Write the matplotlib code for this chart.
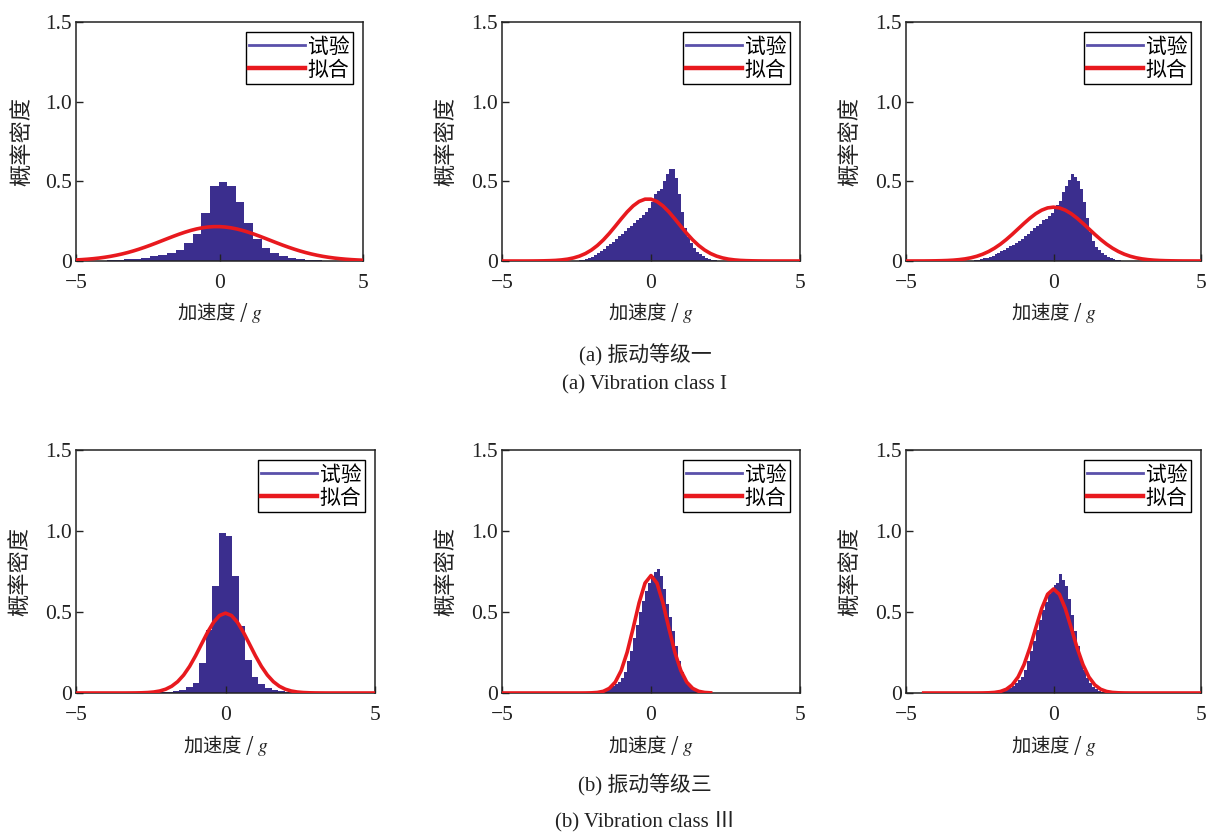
import numpy as np
import matplotlib
matplotlib.use('Agg')
import matplotlib.pyplot as plt
from matplotlib.lines import Line2D

nan = float('nan')
plt.rcParams['mathtext.fontset'] = 'stix'

# ---------------- data ----------------
# histogram bins: first left edge, bin width, densities
hist_start = [-3.93, -2.5, -2.8, -2.2, -1.8, -2.0]
hist_width = [0.3, 0.1, 0.1, 0.22, 0.1, 0.1]

hist1 = [0.005, 0.008, 0.01, 0.015, 0.02, 0.03, 0.04, 0.05, 0.07, 0.11, 0.17,
         0.3, 0.47, 0.495, 0.47, 0.37, 0.24, 0.14, 0.08, 0.05, 0.03, 0.02,
         0.012, 0.008, 0.005]
hist2 = [0.003, 0.005, 0.008, 0.012, 0.018, 0.026, 0.035, 0.048, 0.06, 0.075,
         0.092, 0.105, 0.12, 0.138, 0.155, 0.17, 0.188, 0.205, 0.22, 0.237,
         0.255, 0.27, 0.29, 0.31, 0.335, 0.37, 0.42, 0.44, 0.455, 0.5, 0.545,
         0.58, 0.578, 0.52, 0.42, 0.31, 0.21, 0.15, 0.11, 0.08, 0.058, 0.042,
         0.03, 0.02, 0.012, 0.007, 0.004, 0.002]
hist3 = [0.003, 0.005, 0.008, 0.012, 0.016, 0.021, 0.027, 0.034, 0.043, 0.052,
         0.062, 0.072, 0.082, 0.092, 0.102, 0.113, 0.125, 0.14, 0.155, 0.172,
         0.19, 0.205, 0.218, 0.235, 0.255, 0.265, 0.28, 0.3,
         0.325, 0.35, 0.375, 0.43, 0.47, 0.51, 0.545, 0.53, 0.5, 0.45, 0.37,
         0.27, 0.18, 0.125, 0.09, 0.068, 0.05, 0.037, 0.026, 0.018, 0.012,
         0.008, 0.005, 0.003]
hist4 = [0.005, 0.008, 0.012, 0.02, 0.035, 0.06, 0.185, 0.39, 0.66, 0.985,
         0.97, 0.72, 0.415, 0.205, 0.10, 0.055, 0.03, 0.02, 0.012, 0.008, 0.005]
hist5 = [0.004, 0.007, 0.012, 0.02, 0.03, 0.042, 0.055, 0.07, 0.095, 0.13,
         0.2, 0.26, 0.34, 0.42, 0.5, 0.57, 0.63, 0.68, 0.72, 0.75, 0.765, 0.72,
         0.64, 0.55, 0.47, 0.38, 0.29, 0.2, 0.13, 0.085, 0.055, 0.035, 0.022,
         0.014, 0.008, 0.004]
hist6 = [0.005, 0.008, 0.012, 0.018, 0.025, 0.033, 0.045, 0.06, 0.078, 0.1,
         0.14, 0.2, 0.26, 0.32, 0.39, 0.45, 0.51, 0.56, 0.61, 0.645, 0.665,
         0.68, 0.735, 0.70, 0.66, 0.58, 0.48, 0.38, 0.29, 0.21, 0.145, 0.095,
         0.06, 0.038, 0.022, 0.013, 0.007, 0.004]

# fitted density curves, read at x = -5.0, -4.8, ..., 5.0
fit_x = np.round(np.linspace(-5, 5, 51), 1)
fit1 = [0.0065, 0.0086, 0.0112, 0.0145, 0.0185, 0.0234, 0.0292, 0.0361, 0.0440,
        0.0530, 0.0632, 0.0745, 0.0867, 0.0997, 0.1134, 0.1275, 0.1416, 0.1555,
        0.1688, 0.1810, 0.1919, 0.2011, 0.2083, 0.2132, 0.2157,
        0.2157, 0.2132, 0.2083, 0.2011, 0.1919, 0.1810, 0.1688, 0.1555, 0.1416,
        0.1275, 0.1134, 0.0997, 0.0867, 0.0745, 0.0632, 0.0530, 0.0440, 0.0361,
        0.0292, 0.0234, 0.0185, 0.0145, 0.0112, 0.0086, 0.0065, 0.0048]
fit2 = [0, 0, 0, 0, 0, 0.0002, 0.0005, 0.0011, 0.0021, 0.0038, 0.0069, 0.0117,
        0.0194, 0.0307, 0.0468, 0.0688, 0.0973, 0.1323, 0.1731, 0.2180, 0.2643,
        0.3082, 0.3458, 0.3735, 0.3881,
        0.3881, 0.3735, 0.3458, 0.3082, 0.2643, 0.2180, 0.1731, 0.1323, 0.0973,
        0.0688, 0.0468, 0.0307, 0.0194, 0.0117, 0.0069, 0.0038, 0.0021, 0.0011,
        0.0005, 0.0002, 0, 0, 0, 0, 0, 0]
fit3 = [0, 0.0001, 0.0002, 0.0003, 0.0006, 0.0011, 0.0019, 0.0032, 0.0053,
        0.0086, 0.0133, 0.0202, 0.0298, 0.0427, 0.0594, 0.0804, 0.1056, 0.1348,
        0.1672, 0.2016, 0.2360, 0.2686, 0.2970, 0.3191, 0.3332,
        0.338, 0.3332, 0.3191, 0.2970, 0.2686, 0.2360, 0.2016, 0.1672, 0.1348,
        0.1056, 0.0804, 0.0594, 0.0427, 0.0298, 0.0202, 0.0133, 0.0086, 0.0053,
        0.0032, 0.0019, 0.0011, 0.0006, 0.0003, 0.0002, 0.0001, 0]
fit4 = [0] * 9 + [0.0002, 0.0005, 0.0013, 0.0029, 0.0061, 0.0123, 0.0234, 0.0418,
                  0.0701, 0.1107, 0.1645, 0.2301, 0.3027, 0.3747, 0.4364, 0.4782,
                  0.493, 0.4782, 0.4364, 0.3747, 0.3027, 0.2301, 0.1645, 0.1107,
                  0.0701, 0.0418, 0.0234, 0.0123, 0.0061, 0.0029, 0.0013, 0.0005,
                  0.0002] + [0] * 9
fit5 = [0] * 14 + [0.0002, 0.0010, 0.0034, 0.0105, 0.0284, 0.0671, 0.1388,
                   0.2517, 0.3999, 0.5565, 0.6786,
                   0.725, 0.6786, 0.5565, 0.3999, 0.2517, 0.1388, 0.0671, 0.0284,
                   0.0105, 0.0034, 0.0010] + [nan] * 15
fit6 = [nan] * 3 + [0] * 9 + [0.0001, 0.0004, 0.0012, 0.0035, 0.0095, 0.0230,
                              0.0501, 0.0987, 0.1748, 0.2793, 0.4020, 0.5214,
                              0.6095,
                              0.642, 0.6095, 0.5214, 0.4020, 0.2793, 0.1748,
                              0.0987, 0.0501, 0.0230, 0.0095, 0.0035, 0.0012,
                              0.0004, 0.0001] + [0] * 12

hists = [hist1, hist2, hist3, hist4, hist5, hist6]
fits = [fit1, fit2, fit3, fit4, fit5, fit6]

xticks = [-5, 0, 5]
xtick_labels = ['\u22125', '0', '5']
yticks = [0, 0.5, 1.0, 1.5]
ytick_labels = ['0', '0.5', '1.0', '1.5']
legend_labels = ['试验', '拟合']
xlabel = '加速度 / $g$'
ylabel = '概率密度'
captions = ['(a) 振动等级一', '(a) Vibration class I',
            '(b) 振动等级三', '(b) Vibration class \u2162']

# ---------------- style ----------------
HIST_C = '#3b2e8e'
LEG_BLUE = '#5a50aa'
RED = '#e8191e'
CJK = ['Noto Sans CJK SC', 'DejaVu Sans']
SERIF = ['Liberation Serif', 'Noto Sans CJK SC']

W, H = 1209, 835
fig = plt.figure(figsize=(W / 100, H / 100), dpi=100)
fig.patch.set_facecolor('white')

# axes boxes in pixels: left, top, width, height
boxes = [(76, 22, 287, 239), (502, 22, 298, 239), (906, 22, 295, 239),
         (76, 450, 299, 243), (502, 450, 298, 243), (906, 450, 295, 243)]

for i in range(6):
    l, t, w, h = boxes[i]
    ax = fig.add_axes([l / W, 1 - (t + h) / H, w / W, h / H])
    vals = hists[i]
    edges = hist_start[i] + hist_width[i] * np.arange(len(vals) + 1)
    ax.stairs(vals, edges, fill=True, color=HIST_C, linewidth=0, zorder=1)
    ax.plot(fit_x, fits[i], color=RED, lw=2.6, zorder=3)
    ax.set_xlim(-5, 5)
    ax.set_ylim(0, 1.5)
    ax.set_xticks(xticks)
    ax.set_xticklabels(xtick_labels)
    ax.set_yticks(yticks)
    ax.set_yticklabels(ytick_labels)
    ax.tick_params(direction='in', length=5, width=1, labelsize=15.5,
                   colors='#222222')
    ax.tick_params(axis='x', pad=9)
    ax.tick_params(axis='y', pad=3)
    for lab in ax.get_xticklabels() + ax.get_yticklabels():
        lab.set_family(SERIF)
    for sp in ax.spines.values():
        sp.set_linewidth(1.1)
        sp.set_color('#222222')
    ax.set_xlabel(xlabel, fontsize=14, family=CJK, color='#222222')
    ax.xaxis.set_label_coords(0.5, -0.165)
    ax.set_ylabel(ylabel, fontsize=16, family=CJK, color='#222222')
    ax.yaxis.set_label_coords(-0.15, 0.5)
    handles = [Line2D([], [], color=LEG_BLUE, lw=2),
               Line2D([], [], color=RED, lw=3.2)]
    leg = ax.legend(handles, legend_labels, loc='upper right',
                    prop={'family': CJK, 'size': 15}, frameon=True,
                    fancybox=False, edgecolor='black', framealpha=1,
                    borderaxespad=0.5, borderpad=0.15, labelspacing=0.05,
                    handlelength=2.7, handletextpad=0.12)
    leg.get_frame().set_linewidth(1.0)

cap_pos = [(645, 355), (645, 385), (645, 785), (645, 821)]
for (cx, cy), txt in zip(cap_pos, captions):
    fig.text(cx / W, 1 - cy / H, txt, ha='center', va='center',
             fontsize=15, family=SERIF, color='#222222')

fig.savefig('out.png', dpi=100, facecolor='white')
